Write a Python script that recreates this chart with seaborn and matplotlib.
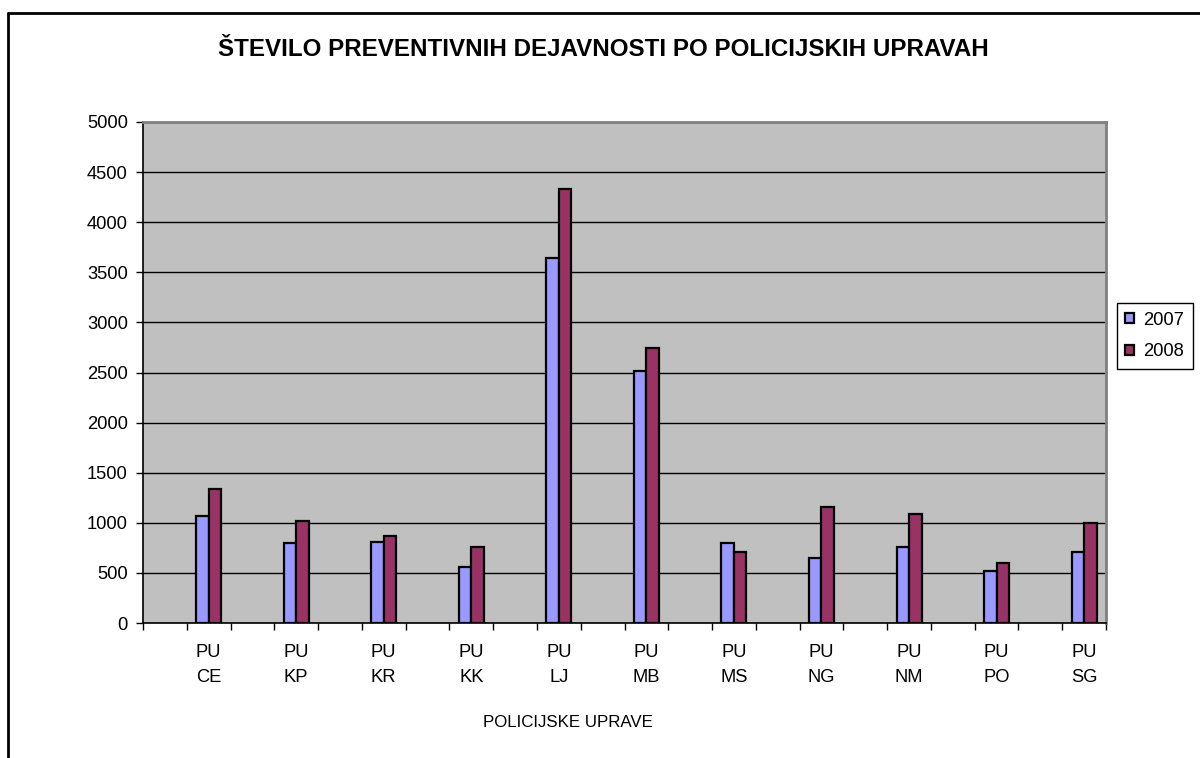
import numpy as np
import pandas as pd
import seaborn as sns
from matplotlib import pyplot as plt
from matplotlib.lines import Line2D

# values
uprave = ['PU\nCE', 'PU\nKP', 'PU\nKR', 'PU\nKK', 'PU\nLJ', 'PU\nMB',
          'PU\nMS', 'PU\nNG', 'PU\nNM', 'PU\nPO', 'PU\nSG']
leta = ['2007', '2008']
v2007 = [1065, 795, 810, 558, 3645, 2513, 796, 646, 758, 517, 704]
v2008 = [1335, 1015, 867, 758, 4330, 2745, 704, 1160, 1088, 595, 997]
barve = ['#9999FF', '#993366']

df = pd.DataFrame({
    'uprava': uprave * 2,
    'leto': [leta[0]] * len(uprave) + [leta[1]] * len(uprave),
    'stevilo': v2007 + v2008,
})

sns.set_style('white')
plt.rcParams['font.family'] = ['Liberation Sans', 'DejaVu Sans']
plt.rcParams['text.color'] = 'black'
plt.rcParams['axes.labelcolor'] = 'black'
plt.rcParams['xtick.color'] = 'black'
plt.rcParams['ytick.color'] = 'black'

fig = plt.figure(figsize=(12, 7.58), dpi=100)
ax = fig.add_axes([143 / 1200, 1 - 623 / 758, 963 / 1200, 501 / 758])
ax.set_facecolor('#C0C0C0')

sns.barplot(data=df, x='uprava', y='stevilo', hue='leto', order=uprave,
            hue_order=leta, palette=barve, width=0.286, saturation=1,
            edgecolor='black', linewidth=1.6, ax=ax, zorder=3)

ax.set_xlim(-0.75, 10.25)
ax.set_ylim(0, 5000)
ax.set_yticks(np.arange(0, 5001, 500))
ax.yaxis.grid(True, color='black', linewidth=1.0)
ax.set_axisbelow(True)

ax.set_xticks(range(len(uprave)))
ax.set_xticklabels(uprave, linespacing=1.6)
ax.set_xticks(np.arange(-0.75, 10.26, 0.5), minor=True)
ax.tick_params(axis='x', which='major', length=0, pad=15, labelsize=13.2)
ax.tick_params(axis='x', which='minor', length=5, width=1, color='black',
               direction='out', bottom=True)
ax.tick_params(axis='y', length=5, width=1, color='black', direction='out',
               left=True, labelsize=13.2, pad=6)

for s in ['left', 'bottom']:
    ax.spines[s].set_color('black')
    ax.spines[s].set_linewidth(1.2)
for s in ['top', 'right']:
    ax.spines[s].set_color('#808080')
    ax.spines[s].set_linewidth(2)

ax.set_ylabel('')
ax.set_xlabel('POLICIJSKE UPRAVE', fontsize=12.2)
ax.xaxis.set_label_coords(0.441, -0.183)

fig.text(0.5025, 1 - 49 / 758, 'ŠTEVILO PREVENTIVNIH DEJAVNOSTI PO POLICIJSKIH UPRAVAH',
         ha='center', va='center', fontsize=17.4, fontweight='bold')

sns.move_legend(ax, loc='center left', bbox_to_anchor=(1117 / 1200, 1 - 336 / 758),
                bbox_transform=fig.transFigure, title=None, frameon=True,
                fontsize=13.2, handlelength=0.45, handleheight=0.45,
                handletextpad=0.55, labelspacing=0.8, borderpad=0.45,
                borderaxespad=0, fancybox=False, framealpha=1, edgecolor='black')
leg = ax.get_legend()
leg.get_frame().set_linewidth(1.0)

# chart border (only top and left edges fall inside the picture)
fig.add_artist(Line2D([8 / 1200, 1.0], [1 - 13 / 758, 1 - 13 / 758],
                      transform=fig.transFigure, color='black', linewidth=2))
fig.add_artist(Line2D([8 / 1200, 8 / 1200], [0, 1 - 13 / 758],
                      transform=fig.transFigure, color='black', linewidth=2))

fig.savefig('out.png', dpi=100)
